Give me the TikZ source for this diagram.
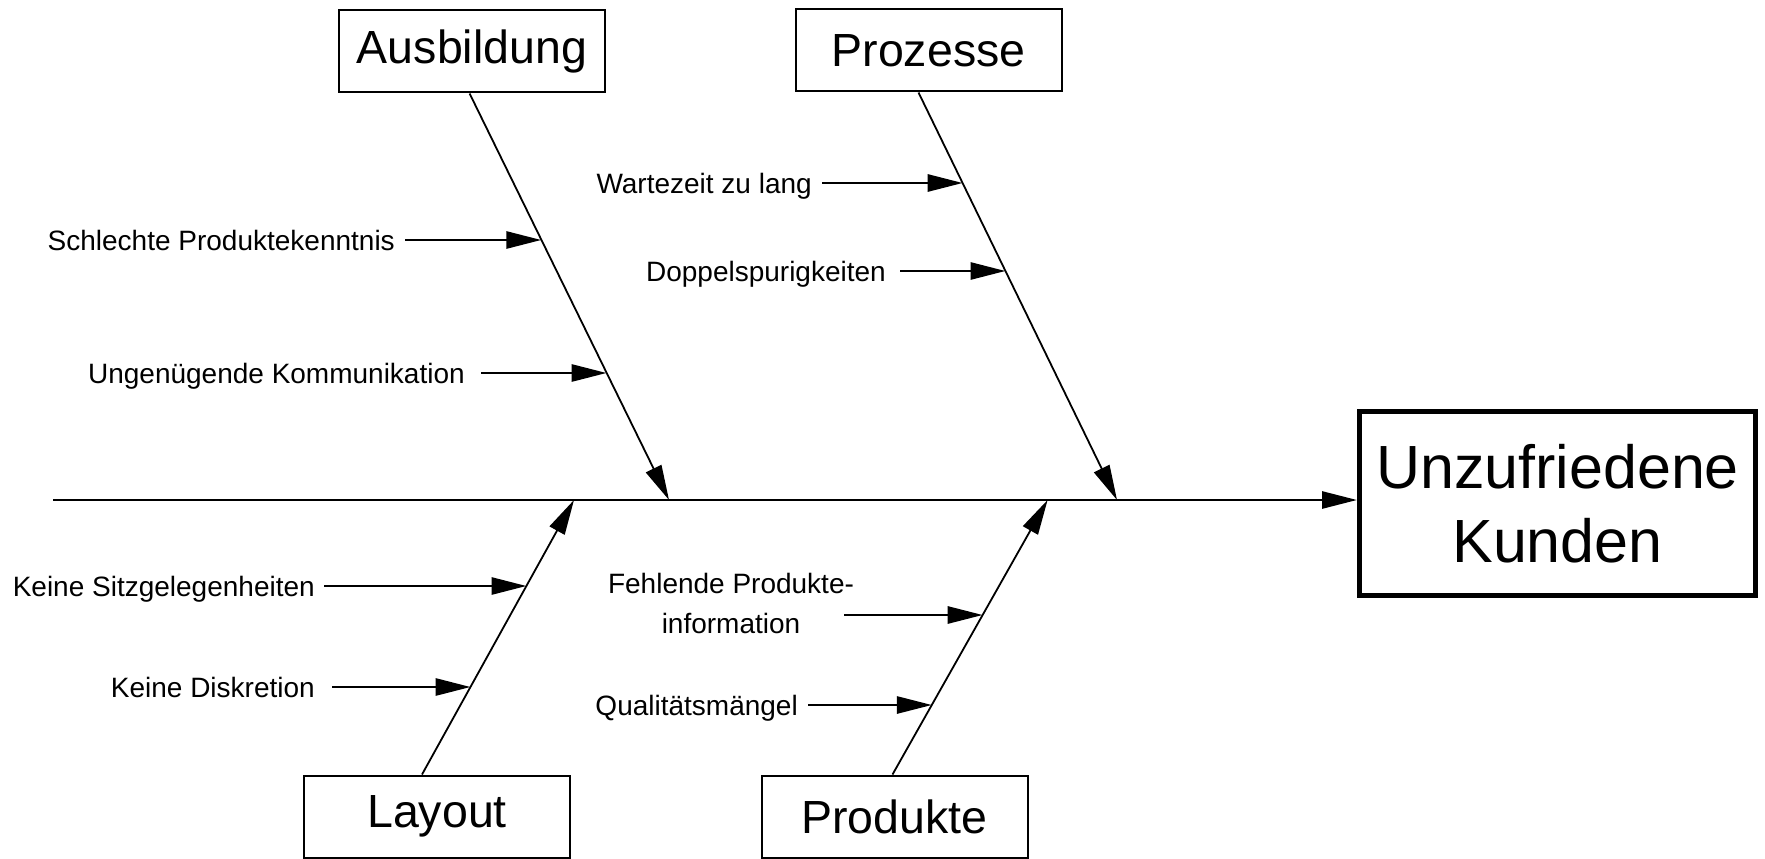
\documentclass[tikz,border=0pt]{standalone}
\usepackage{fontspec}
\setmainfont{Liberation Sans}
\usetikzlibrary{arrows.meta,calc}
\begin{document}
\begin{tikzpicture}[x=1pt,y=-1pt,
  cat/.style={draw,line width=2pt,minimum width=266pt,minimum height=82pt,inner sep=0pt,
    font=\fontsize{46.5}{50}\selectfont},
  effect/.style={draw,line width=5pt,minimum width=396pt,minimum height=184pt,inner sep=0pt,
    align=center,font=\fontsize{61}{74}\selectfont},
  cause/.style={anchor=base east,inner sep=0pt,font=\fontsize{28}{40}\selectfont},
  tip/.style={-{Triangle[length=35pt,width=17pt]}},
  spine/.style={line width=2.8pt,tip},
  bone/.style={line width=1.8pt,tip},
  sub/.style={line width=2.8pt,tip}]
\useasboundingbox (0,0) rectangle (1765,859);

% effect and main categories
\node[effect] (eff) at (1557.5,503.5) {Unzufriedene\\Kunden};
\node[cat] (ausb) at (472,51.5) {Ausbildung};
\node[cat] (proz) at (928.5,50.5) {Prozesse};
\node[cat] (lay)  at (437,816.5) {Layout};
\node[cat] (prod) at (894.5,816.5) {Produkte};

% spine
\coordinate (tail) at (53,500);
\draw[spine] (tail) -- (tail -| eff.west);

% bones meeting the spine
\coordinate (ausbE) at (669,500);
\coordinate (prozE) at (1117,500);
\coordinate (layE)  at (574,500);
\coordinate (prodE) at (1047.6,500);
\coordinate (ausbS) at ($(ausb.south)+(-2.4,0)$);
\coordinate (prozS) at ($(proz.south)+(-10,0)$);
\coordinate (layS)  at ($(lay.north)+(-15,0)$);
\coordinate (prodS) at ($(prod.north)+(-2,0)$);
\draw[bone] (ausbS) -- (ausbE);
\draw[bone] (prozS) -- (prozE);
\draw[bone] (layS) -- (layE);
\draw[bone] (prodS) -- (prodE);

% points where the causes meet their bones
\coordinate (t1) at (541.3,240);
\coordinate (t2) at (606.6,373);
\coordinate (t3) at (962.7,183);
\coordinate (t4) at (1005.5,271);
\coordinate (t5) at (526.5,586);
\coordinate (t6) at (470.6,687);
\coordinate (t7) at (982.7,615);
\coordinate (t8) at (931.9,705);

% starts of the cause arrows
\coordinate (s1) at (405,240);
\coordinate (s2) at (481,373);
\coordinate (s3) at (822,183);
\coordinate (s4) at (900,271);
\coordinate (s5) at (324,586);
\coordinate (s6) at (332,687);
\coordinate (s7) at (844,615);
\coordinate (s8) at (808,705);

% cause labels
\node[cause] (c1) at (395,250.5) {Schlechte Produktekenntnis};
\node[cause] (c2) at (465,383.5) {Ungenügende Kommunikation};
\node[cause] (c3) at (812,193.5) {Wartezeit zu lang};
\node[cause] (c4) at (886,281.5) {Doppelspurigkeiten};
\node[cause] (c5) at (315,596.5) {Keine Sitzgelegenheiten};
\node[cause] (c6) at (315,697.5) {Keine Diskretion};
\node[inner sep=0pt,align=center,font=\fontsize{28}{40}\selectfont] (c7) at (731,603)
  {Fehlende Produkte-\\information};
\node[cause] (c8) at (798,715.5) {Qualitätsmängel};

% cause arrows
\draw[sub] (s1) -- (t1);
\draw[sub] (s2) -- (t2);
\draw[sub] (s3) -- (t3);
\draw[sub] (s4) -- (t4);
\draw[sub] (s5) -- (t5);
\draw[sub] (s6) -- (t6);
\draw[sub] (s7) -- (t7);
\draw[sub] (s8) -- (t8);
\end{tikzpicture}
\end{document}
